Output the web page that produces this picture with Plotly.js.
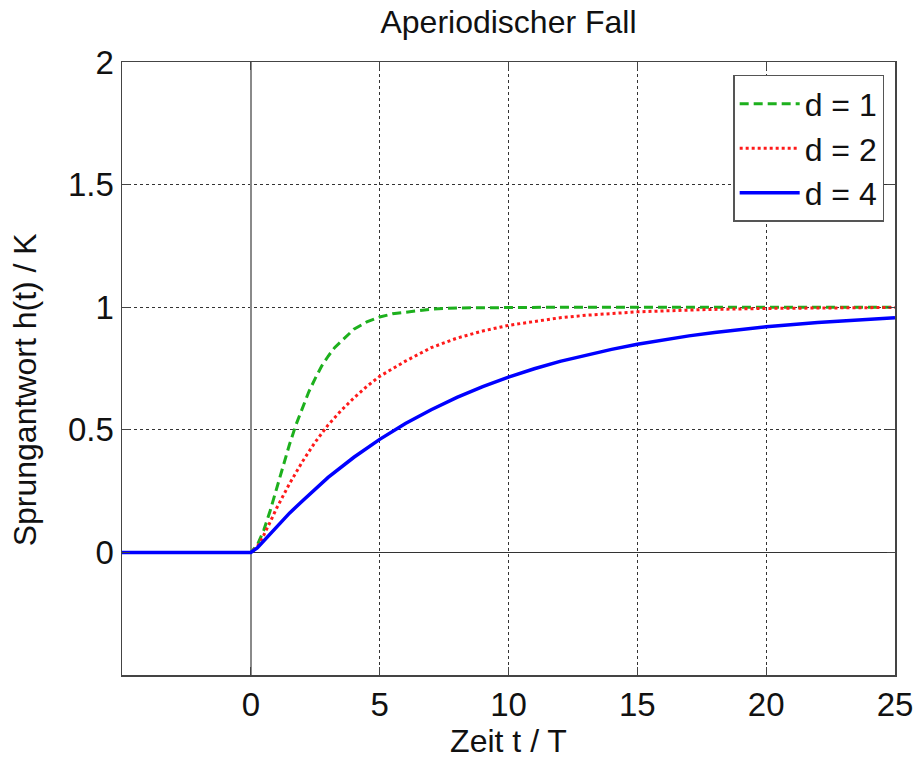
<!DOCTYPE html>
<html>
<head>
<meta charset="utf-8">
<script src="https://cdn.plot.ly/plotly-3.0.1.min.js"></script>
<style>html,body{margin:0;padding:0;background:#fff;}#chart{width:917px;height:760px;}</style>
</head>
<body>
<div id="chart"></div>
<script>
// Zeit t / T  and  Sprungantwort h(t) / K
const tD1 = [-5, 0, 0.25, 0.5, 0.75, 1, 1.25, 1.5, 1.75, 2, 2.25, 2.5, 2.75, 3, 3.25, 3.5, 4, 4.5, 5, 5.5, 6, 6.5, 7, 8, 10, 12, 15, 20, 25];
const hD1 = [0, 0, 0.03, 0.09, 0.17, 0.26, 0.355, 0.44, 0.52, 0.59, 0.655, 0.71, 0.76, 0.80, 0.835, 0.86, 0.91, 0.94, 0.96, 0.973, 0.98, 0.988, 0.992, 0.997, 1.0, 1.0, 1.0, 1.0, 1.0];

const tD2 = [-5, 0, 0.25, 0.5, 0.75, 1, 1.5, 2, 2.5, 3, 3.5, 4, 4.5, 5, 6, 7, 8, 9, 10, 11, 12, 13, 15, 17.5, 20, 25];
const hD2 = [0, 0, 0.023, 0.07, 0.124, 0.18, 0.28, 0.37, 0.45, 0.52, 0.578, 0.63, 0.677, 0.718, 0.78, 0.835, 0.874, 0.903, 0.926, 0.943, 0.957, 0.967, 0.981, 0.990, 0.995, 0.999];

const tD4 = [-5, 0, 0.25, 0.5, 0.75, 1, 1.5, 2, 2.5, 3, 4, 5, 6, 7, 8, 9, 10, 11, 12, 13, 14, 15, 16, 17, 18, 20, 22, 24, 25];
const hD4 = [0, 0, 0.018, 0.046, 0.076, 0.105, 0.16, 0.21, 0.26, 0.306, 0.388, 0.461, 0.526, 0.582, 0.632, 0.676, 0.715, 0.749, 0.779, 0.805, 0.828, 0.849, 0.867, 0.883, 0.897, 0.920, 0.938, 0.952, 0.957];

const seriesNames = ['d = 1', 'd = 2', 'd = 4'];
const xTicks = [0, 5, 10, 15, 20, 25];
const yTicks = [0, 0.5, 1, 1.5, 2];

const FONT = 'Arial, "Liberation Sans", sans-serif';
const TXT = '#111';

const traces = [
  {x: tD1, y: hD1, name: seriesNames[0], mode: 'lines', line: {color: '#1db01d', width: 3, dash: '9px,5px'}},
  {x: tD2, y: hD2, name: seriesNames[1], mode: 'lines', line: {color: '#ff1a1a', width: 3, dash: '3px,3px'}},
  {x: tD4, y: hD4, name: seriesNames[2], mode: 'lines', line: {color: '#0000ff', width: 3.5}}
];

const axisCommon = {
  showline: true, mirror: 'ticks', linecolor: '#444', linewidth: 1.5,
  ticks: 'inside', ticklen: 8, tickwidth: 1.2, tickcolor: '#444',
  showgrid: true, gridcolor: '#333', griddash: '3px,3px', gridwidth: 1.2,
  tickfont: {family: FONT, size: 33, color: TXT},
  automargin: false
};

const layout = {
  width: 917, height: 760,
  paper_bgcolor: '#fff', plot_bgcolor: '#fff',
  margin: {l: 122, r: 22, t: 62, b: 85},
  title: {text: 'Aperiodischer Fall', font: {family: FONT, size: 32, color: TXT},
          x: 0.5, xref: 'paper', y: 0.971, yref: 'container', yanchor: 'middle'},
  xaxis: Object.assign({}, axisCommon, {
    range: [-5, 25], tickvals: xTicks, ticktext: xTicks.map(String),
    zeroline: true, zerolinecolor: '#8a8a8a', zerolinewidth: 2.5,
    title: {text: 'Zeit t / T', font: {family: FONT, size: 32, color: TXT}, standoff: 4}
  }),
  yaxis: Object.assign({}, axisCommon, {
    range: [-0.5, 2], tickvals: yTicks, ticktext: yTicks.map(String),
    zeroline: true, zerolinecolor: '#333', zerolinewidth: 1.5,
    title: {text: ''}
  }),
  annotations: [{
    text: 'Sprungantwort h(t) / K', textangle: -90,
    xref: 'paper', yref: 'paper', x: -0.125, y: 0.465,
    xanchor: 'center', yanchor: 'middle', showarrow: false,
    font: {family: FONT, size: 32, color: TXT}
  }],
  legend: {
    x: 0.986, y: 0.979, xanchor: 'right', yanchor: 'top',
    bgcolor: '#fff', bordercolor: '#555', borderwidth: 1.5,
    font: {family: FONT, size: 32, color: TXT},
    tracegroupgap: 0, itemwidth: 60
  },
  showlegend: true
};

Plotly.newPlot('chart', traces, layout, {displayModeBar: false, staticPlot: true});
</script>
</body>
</html>
